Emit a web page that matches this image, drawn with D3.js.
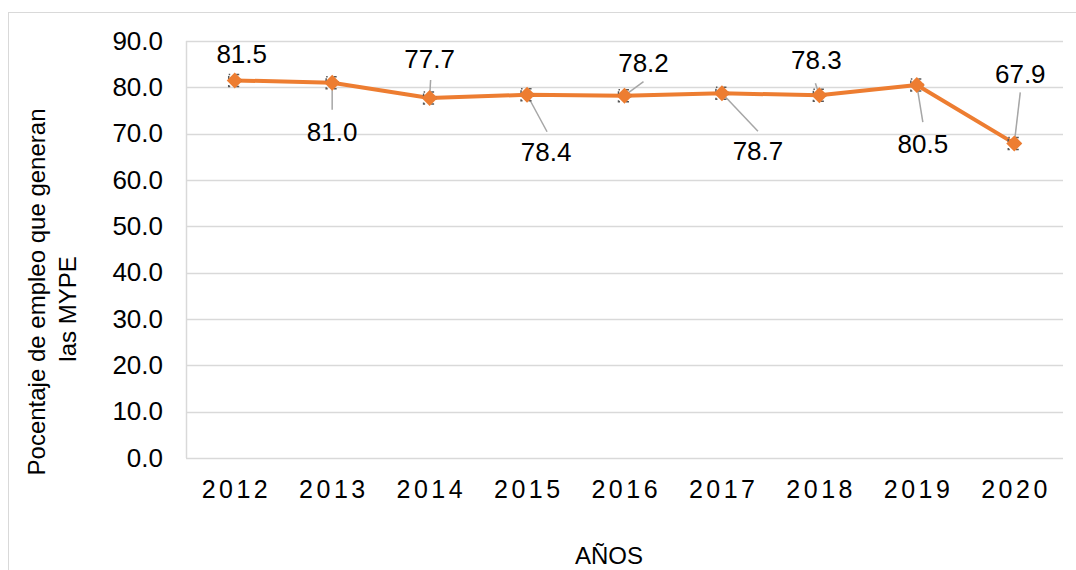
<!DOCTYPE html>
<html><head><meta charset="utf-8">
<script src="https://cdn.jsdelivr.net/npm/d3@7"></script>
<style>body{margin:0;background:#fff}svg{display:block;font-family:"Liberation Sans",Arial,sans-serif}</style>
</head><body><svg id="c" width="1076" height="570"></svg>
<script>
const categories = ["2012","2013","2014","2015","2016","2017","2018","2019","2020"];
const values = [81.5, 81.0, 77.7, 78.4, 78.2, 78.7, 78.3, 80.5, 67.9];
const yTicks = [0,10,20,30,40,50,60,70,80,90];
const yTitleLines = ["Pocentaje de empleo que generan","las MYPE"];
const xTitle = "AÑOS";
// label placement: centre offset from point, and leader-line end offset from point (null = none)
const labelOffsets = [[7,-26],[0,49],[0,-39],[19,57],[19,-33],[36,58],[-3,-35],[6,59],[6,-69]];
const leaderEnds = [null,[0,27],[1,-18],[20,37],[19,-14],[36,38],[-4,-12],[6,37],[6,-51]];

const svg = d3.select("#c");
const m = {l:186, r:1063, t:41, b:458};
svg.append("rect").attr("x",8.5).attr("y",12.5).attr("width",1100).attr("height",600)
  .attr("fill","#fff").attr("stroke","#d9d9d9").attr("stroke-width",1);

const x = d3.scaleBand().domain(categories).range([m.l,m.r]);
const y = d3.scaleLinear().domain([0,90]).range([m.b,m.t]);

// gridlines
svg.append("g").selectAll("line").data(yTicks).join("line")
  .attr("x1",m.l).attr("x2",m.r).attr("y1",d=>Math.round(y(d))+0.5).attr("y2",d=>Math.round(y(d))+0.5)
  .attr("stroke","#d9d9d9").attr("stroke-width",1.5);
svg.append("line").attr("x1",m.l+0.5).attr("x2",m.l+0.5).attr("y1",m.t).attr("y2",m.b)
  .attr("stroke","#d9d9d9").attr("stroke-width",1.5);

// y axis labels
const yAxis = d3.axisLeft(y).tickValues(yTicks).tickFormat(d3.format(".1f")).tickSize(0).tickPadding(23);
const gy = svg.append("g").attr("transform",`translate(${m.l},0)`).call(yAxis);
gy.select(".domain").remove();
gy.selectAll("text").attr("font-size",26).attr("fill","#000").attr("font-family","Liberation Sans, Arial, sans-serif");

// x axis labels
const xAxis = d3.axisBottom(x).tickSize(0).tickPadding(22);
const gx = svg.append("g").attr("transform",`translate(0,${m.b})`).call(xAxis);
gx.select(".domain").remove();
gx.selectAll("text").attr("font-size",25).attr("fill","#000").attr("letter-spacing","3.5px").attr("dx","1.75")
  .attr("font-family","Liberation Sans, Arial, sans-serif");

// titles
svg.append("text").attr("transform","translate(45,292) rotate(-90)")
  .attr("text-anchor","middle").attr("font-size",24).attr("fill","#000").text(yTitleLines[0]);
svg.append("text").attr("transform","translate(76,309) rotate(-90)")
  .attr("text-anchor","middle").attr("font-size",24).attr("fill","#000").text(yTitleLines[1]);
svg.append("text").attr("x",609).attr("y",564).attr("text-anchor","middle")
  .attr("font-size",24).attr("fill","#000").text(xTitle);

const data = values.map((v,i)=>({v,i,px:x(categories[i])+x.bandwidth()/2,py:y(v)}));

// leader lines
svg.append("g").selectAll("line").data(data.filter(d=>leaderEnds[d.i])).join("line")
  .attr("x1",d=>d.px).attr("y1",d=>d.py)
  .attr("x2",d=>d.px+leaderEnds[d.i][0]).attr("y2",d=>d.py+leaderEnds[d.i][1])
  .attr("stroke","#a6a6a6").attr("stroke-width",1.5);

// line
svg.append("path").datum(data)
  .attr("d",d3.line().x(d=>d.px).y(d=>d.py))
  .attr("fill","none").attr("stroke","#ED7D31").attr("stroke-width",4).attr("stroke-linejoin","round");

// markers
const mk = svg.append("g").selectAll("g").data(data).join("g")
  .attr("transform",d=>`translate(${d.px},${d.py})`);
mk.append("rect").attr("x",-6).attr("y",-6).attr("width",12).attr("height",12)
  .attr("fill","none").attr("stroke","#595959").attr("stroke-width",1.5).attr("stroke-dasharray","3 6").attr("stroke-dashoffset",1.5);
mk.append("path").attr("d","M0,-8L8,0L0,8L-8,0Z").attr("fill","#ED7D31");

// labels
svg.append("g").selectAll("text").data(data).join("text")
  .attr("x",d=>d.px+labelOffsets[d.i][0]).attr("y",d=>d.py+labelOffsets[d.i][1])
  .attr("dy","0.35em").attr("text-anchor","middle").attr("font-size",26).attr("fill","#000")
  .text(d=>d3.format(".1f")(d.v));
</script></body></html>
